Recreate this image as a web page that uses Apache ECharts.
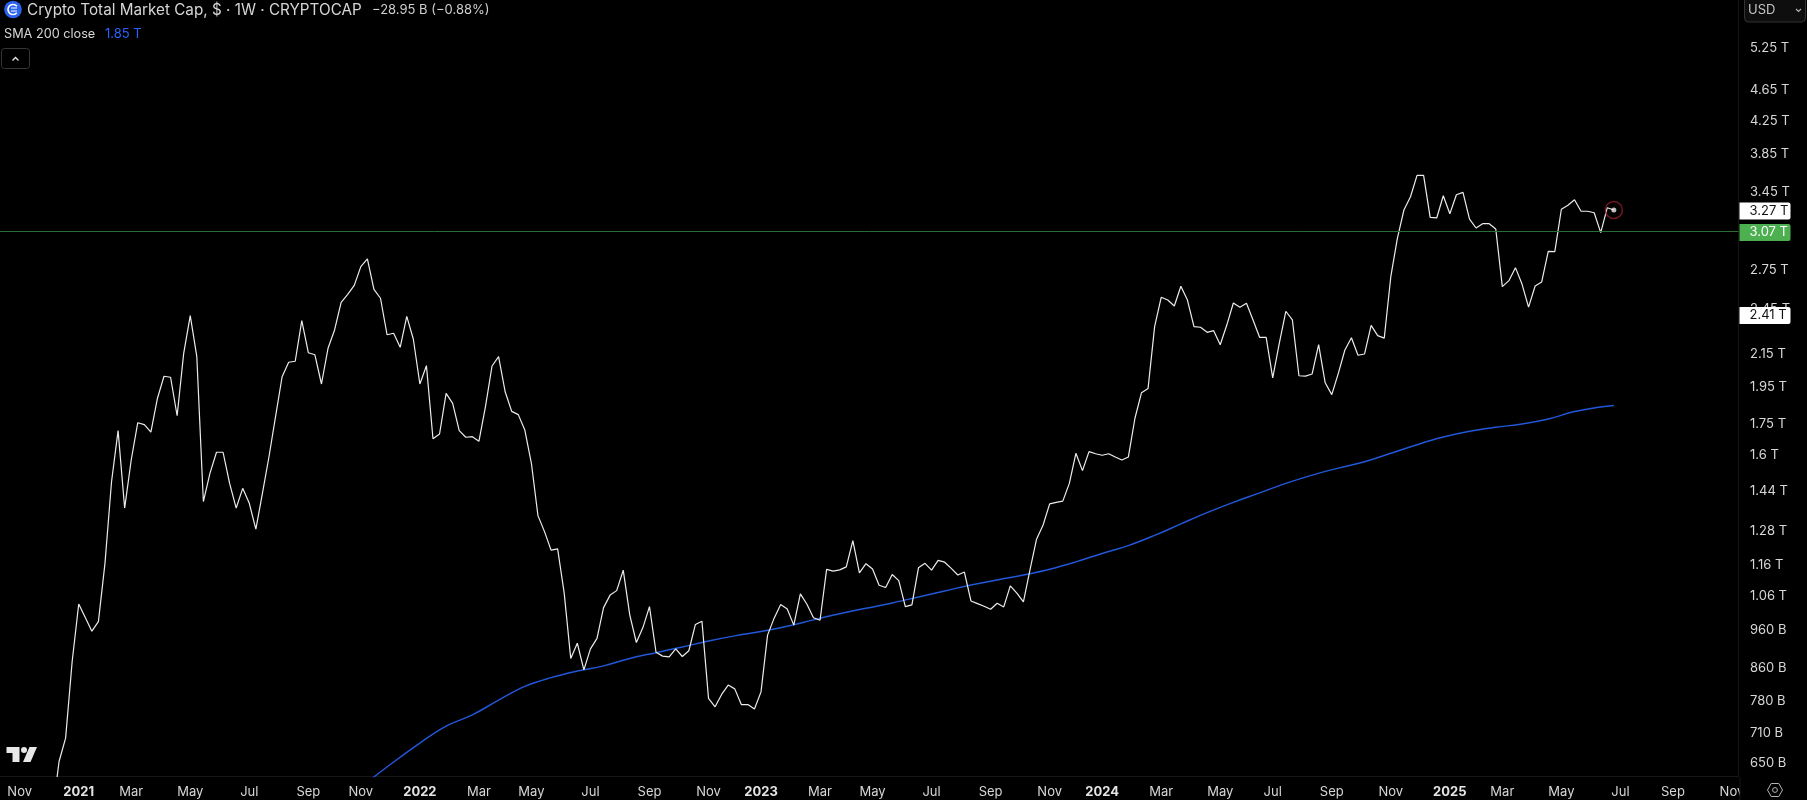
<!DOCTYPE html>
<html><head><meta charset="utf-8">
<script src="https://cdn.jsdelivr.net/npm/echarts@6/dist/echarts.min.js"></script>
<style>html,body{margin:0;height:100%;background:#000}#main{width:1807px;height:800px}</style>
</head><body><div id="main"></div>
<script>
// weekly closes in trillions, first bar is the week of 2020-11-30
var firstCloseWeek = 8;
var closes = [
 0.559,0.652,0.698,0.873,1.033,0.993,0.954,0.981,1.163,1.476,1.714,1.367,1.573,1.754,1.744,1.706,1.884,2.009,2.003,1.790,2.148,2.398,2.127,1.393,
 1.513,1.609,1.609,1.469,1.367,1.448,1.386,1.285,1.427,1.588,1.785,2.006,2.093,2.099,2.363,2.152,
 2.139,1.964,2.180,2.300,2.493,2.552,2.620,2.767,2.830,2.590,2.523,2.268,2.278,2.186,2.393,2.240,1.964,2.072,1.674,1.697,1.911,1.856,1.714,1.681,
 1.684,1.661,1.838,2.070,2.127,1.920,1.813,1.796,1.717,1.558,1.337,1.276,1.209,1.213,1.066,0.881,
 0.921,0.852,0.906,0.934,1.022,1.060,1.074,1.140,1.000,0.923,0.964,1.025,0.897,0.887,0.885,0.906,0.886,0.901,0.973,0.982,0.784,0.765,0.793,0.815,
 0.806,0.770,0.770,0.760,0.799,0.943,0.991,1.031,1.018,0.971,1.064,1.032,0.992,0.985,1.143,
 1.137,1.141,1.151,1.243,1.131,1.162,1.144,1.091,1.084,1.126,1.106,1.025,1.030,1.148,1.163,1.140,1.173,1.167,1.146,1.124,1.134,1.042,1.034,1.026,
 1.017,1.035,1.024,1.089,1.066,1.039,1.141,1.248,1.301,1.384,1.390,1.395,1.469,1.604,1.525,1.612,
 1.602,1.595,1.602,1.587,1.573,1.587,1.777,1.915,1.939,2.322,2.530,2.510,2.467,2.613,2.510,2.322,2.318,2.284,2.295,2.203,2.333,2.488,2.457,2.486,
 2.368,2.251,2.251,1.999,2.212,2.429,2.368,2.012,2.010,2.022,2.203,1.971,1.904,2.026,2.169,2.248,
 2.136,2.144,2.331,2.262,2.246,2.687,3.006,3.265,3.394,3.613,3.613,3.196,3.190,3.404,3.230,3.414,3.438,3.180,3.098,3.137,3.137,3.089,2.610,2.656,
 2.759,2.630,2.459,2.615,2.646,2.894,2.891,3.272,3.310,3.365,3.253,3.253,3.239,3.056,3.287,3.265
];
// SMA 200 read every fourth week, the last one two weeks later
var smaValues = [
 0.614,0.651,0.688,0.723,0.747,0.780,0.812,0.833,0.849,0.862,0.881,0.896,0.911,0.927,0.941,0.953,0.968,0.986,1.004,1.020,1.036,1.054,1.073,1.092,
 1.108,1.124,1.143,1.168,1.197,1.225,1.262,1.305,1.349,1.390,1.429,1.469,1.505,1.536,1.565,1.604,1.645,1.682,1.711,1.731,1.747,1.773,1.812,1.837,
 1.845
];
var smaFirstWeek = 56;
var priceTicks = [5.25,4.65,4.25,3.85,3.45,2.75,2.45,2.15,1.95,1.75,1.6,1.44,1.28,1.16,1.06,0.96,0.86,0.78,0.71,0.65];
var priceTickLabels = ['5.25 T','4.65 T','4.25 T','3.85 T','3.45 T','2.75 T','2.45 T','2.15 T','1.95 T','1.75 T','1.6 T','1.44 T','1.28 T','1.16 T','1.06 T','960 B','860 B','780 B','710 B','650 B'];
var dateTicks = ['2020-10-26','2020-12-28','2021-02-22','2021-04-26','2021-06-28','2021-08-30','2021-10-25','2021-12-27','2022-02-28','2022-04-25','2022-06-27','2022-08-29','2022-10-31','2022-12-26','2023-02-27','2023-04-24','2023-06-26','2023-08-28','2023-10-30','2023-12-25','2024-02-26','2024-04-29','2024-06-24','2024-08-26','2024-10-28','2024-12-30','2025-02-24','2025-04-28','2025-06-30','2025-08-25','2025-10-27'];
var dateTickLabels = ['Nov','2021','Mar','May','Jul','Sep','Nov','2022','Mar','May','Jul','Sep','Nov','2023','Mar','May','Jul','Sep','Nov','2024','Mar','May','Jul','Sep','Nov','2025','Mar','May','Jul','Sep','Nov'];
var currentPrice = 3.27, prevClosePrice = 3.07, lowMarkPrice = 2.41;

var FONT = 'Inter, Roboto, sans-serif';
var TEXT = '#d6d6d6';

var weeks = [];
for (var w = 0; w < 266; w++) {
    weeks.push(new Date(Date.UTC(2020, 9, 5 + w * 7)).toISOString().slice(0, 10));
}
var closeData = closes.map(function (v, i) { return [weeks[firstCloseWeek + i], v]; });
var smaData = smaValues.map(function (v, i) {
    var k = i == smaValues.length - 1 ? firstCloseWeek + closes.length - 1 : smaFirstWeek + i * 4;
    return [weeks[k], v];
});
var lastPoint = closeData[closeData.length - 1];

function priceLabel(val, bg, fg) {
    return {
        yAxis: val,
        lineStyle: { color: 'rgba(0,0,0,0)', width: 1, type: 'solid' },
        label: {
            show: true, position: 'end', distance: 1, offset: [0, 1.5],
            formatter: val.toFixed(2) + ' T',
            color: fg, backgroundColor: bg, borderRadius: [0, 2, 2, 0],
            fontFamily: FONT, fontSize: 13, align: 'left',
            padding: [2, 8, 2, 10], width: 33, lineHeight: 13
        }
    };
}
var currentMark = priceLabel(currentPrice, '#ffffff', '#111111');
var lowMark = priceLabel(lowMarkPrice, '#ffffff', '#111111');
var prevMark = priceLabel(prevClosePrice, '#4caf50', '#ffffff');
prevMark.lineStyle = { color: '#2a6e34', width: 1, type: 'solid' };

var option = {
    backgroundColor: '#000',
    animation: false,
    grid: { left: 0, top: 0, width: 1738.5, height: 776.5 },
    xAxis: {
        type: 'category',
        data: weeks,
        boundaryGap: false,
        axisLine: { lineStyle: { color: '#161616' } },
        axisTick: { show: false },
        splitLine: { show: false },
        axisLabel: {
            margin: 9,
            color: TEXT,
            fontFamily: FONT,
            fontSize: 13,
            hideOverlap: false,
            showMinLabel: true,
            showMaxLabel: true,
            interval: function (i, val) { return dateTicks.indexOf(val) >= 0; },
            formatter: function (val) {
                var t = dateTickLabels[dateTicks.indexOf(val)];
                return /^\d/.test(t) ? '{y|' + t + '}' : t;
            },
            rich: { y: { color: '#e4e4e4', fontFamily: FONT, fontSize: 13, fontWeight: 700 } }
        }
    },
    yAxis: {
        type: 'log',
        position: 'right',
        min: 0.624,
        max: 6.03,
        axisLine: { show: true, lineStyle: { color: '#161616' } },
        axisTick: { show: false },
        splitLine: { show: false },
        axisLabel: {
            margin: 11.5,
            verticalAlign: 'top',
            lineHeight: 2,
            color: TEXT,
            fontFamily: FONT,
            fontSize: 13,
            customValues: priceTicks,
            formatter: function (val) {
                var best = 0;
                for (var i = 0; i < priceTicks.length; i++) {
                    if (Math.abs(priceTicks[i] - val) < Math.abs(priceTicks[best] - val)) best = i;
                }
                return priceTickLabels[best];
            }
        }
    },
    series: [
        {
            name: 'SMA 200 close',
            type: 'line',
            data: smaData,
            showSymbol: false,
            smooth: 0.4,
            lineStyle: { color: '#2157d8', width: 1.5 },
            z: 3
        },
        {
            name: 'Crypto Total Market Cap',
            type: 'line',
            data: closeData,
            showSymbol: false,
            lineStyle: { color: '#ececec', width: 1.2 },
            z: 4,
            markLine: {
                silent: true,
                symbol: 'none',
                animation: false,
                data: [prevMark, currentMark, lowMark]
            }
        },
        {
            type: 'scatter',
            data: [lastPoint],
            symbolSize: 17,
            itemStyle: { color: 'rgba(0,0,0,0)', borderColor: '#8f1d2c', borderWidth: 1.5 },
            z: 5
        },
        {
            type: 'scatter',
            data: [lastPoint],
            symbolSize: 5,
            itemStyle: { color: '#f4e8e8' },
            z: 6
        }
    ],
    graphic: [
        // legend block
        { type: 'circle', shape: { cx: 13, cy: 9.5, r: 8.8 }, style: { fill: '#2b62f0' } },
        { type: 'arc', shape: { cx: 13, cy: 9.5, r: 5, startAngle: 0.7, endAngle: 5.6 }, style: { stroke: '#fff', lineWidth: 1.6, fill: null } },
        { type: 'line', shape: { x1: 11, y1: 8, x2: 17, y2: 8 }, style: { stroke: '#fff', lineWidth: 1 } },
        { type: 'line', shape: { x1: 11, y1: 11, x2: 17, y2: 11 }, style: { stroke: '#fff', lineWidth: 1 } },
        { type: 'text', x: 27, y: 10.5, style: { text: 'Crypto Total Market Cap, $ · 1W · CRYPTOCAP', fill: TEXT, font: '15.25px ' + FONT, verticalAlign: 'middle' } },
        { type: 'text', x: 372, y: 10, style: { text: '−28.95 B (−0.88%)', fill: '#cfcfcf', font: '13px ' + FONT, verticalAlign: 'middle' } },
        { type: 'text', x: 4, y: 34.5, style: { text: 'SMA 200 close', fill: TEXT, font: '12.7px ' + FONT, verticalAlign: 'middle' } },
        { type: 'text', x: 105, y: 34.5, style: { text: '1.85 T', fill: '#2962ff', font: '13px ' + FONT, verticalAlign: 'middle' } },
        { type: 'rect', shape: { x: 1.5, y: 48.5, width: 28, height: 20, r: 3 }, style: { fill: '#000', stroke: '#363636', lineWidth: 1 } },
        { type: 'polyline', shape: { points: [[12.5, 60.5], [15.5, 57.5], [18.5, 60.5]] }, style: { stroke: '#e8e8e8', lineWidth: 1.3, fill: null } },
        // currency button
        { type: 'rect', shape: { x: 1744.5, y: -6, width: 61, height: 28, r: 4 }, style: { fill: '#0e0e0e', stroke: '#333', lineWidth: 1 } },
        { type: 'text', x: 1748, y: 10, style: { text: 'USD', fill: '#c4c4c4', font: '13px ' + FONT, verticalAlign: 'middle' } },
        { type: 'polyline', shape: { points: [[1796, 9], [1798.5, 11.5], [1801, 9]] }, style: { stroke: '#b8b8b8', lineWidth: 1.1, fill: null } },
        // TradingView mark
        { type: 'polygon', shape: { points: [[6.5, 747], [19.5, 747], [19.5, 762], [12.5, 762], [12.5, 753], [6.5, 753]] }, style: { fill: '#e8e8e8' } },
        { type: 'circle', shape: { cx: 24, cy: 750, r: 3 }, style: { fill: '#e8e8e8' } },
        { type: 'polygon', shape: { points: [[37, 747], [30.5, 762], [23, 762], [29.5, 747]] }, style: { fill: '#e8e8e8' } },
        // corner past the price scale, the last month label is cut off by it
        { type: 'rect', shape: { x: 1740, y: 777, width: 67, height: 23 }, style: { fill: '#000' }, z: 50 },
        { type: 'line', shape: { x1: 1740, y1: 777, x2: 1740, y2: 800 }, style: { stroke: '#161616', lineWidth: 1 }, z: 51 },
        { type: 'polygon', shape: { points: [[1767.5, 790], [1771.2, 783.5], [1778.8, 783.5], [1782.5, 790], [1778.8, 796.5], [1771.2, 796.5]] }, style: { fill: null, stroke: '#b4b4b4', lineWidth: 1 }, z: 51 },
        { type: 'circle', shape: { cx: 1775, cy: 790, r: 2.4 }, style: { fill: null, stroke: '#b4b4b4', lineWidth: 1 }, z: 51 }
    ]
};

var chart = echarts.init(document.getElementById('main'));
chart.setOption(option);
</script></body></html>
